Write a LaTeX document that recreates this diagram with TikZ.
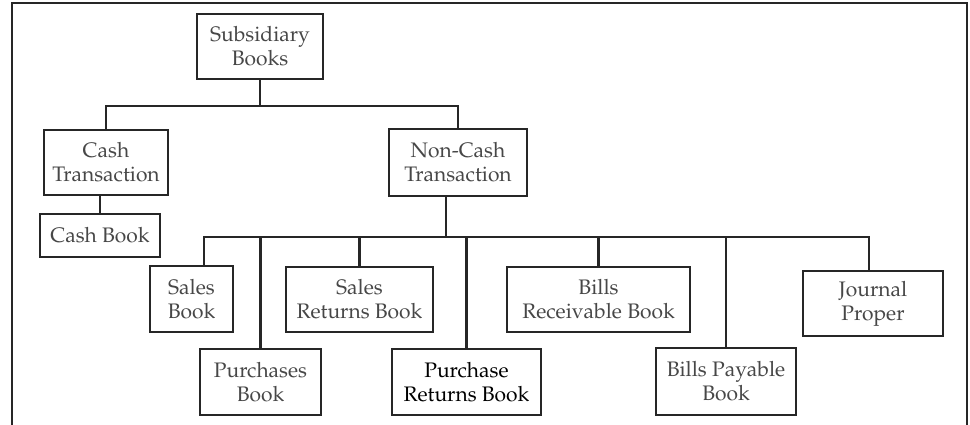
\documentclass[tikz,border=0pt]{standalone}
\usepackage[T1]{fontenc}
\usepackage{mathpazo}
\usetikzlibrary{calc}
\tikzset{
  bx/.style={draw=black!85, line width=2.5pt, align=center, inner sep=0pt,
    text=black!72, font=\fontsize{21}{24}\selectfont},
  ln/.style={draw=black!85, line width=2.5pt},
}
\begin{document}
\begin{tikzpicture}[x=1pt,y=-1pt]
\useasboundingbox (0,0) rectangle (970,425);
\draw[ln, line width=2.8pt] (12,427) -- (12,3) -- (967,3) -- (967,427);
\coordinate (bar1) at (0,106);
\coordinate (bar2) at (0,237);
\node[bx, minimum width=126pt, minimum height=65pt] (sub) at (260,46.5) {Subsidiary\\Books};
\node[bx, minimum width=124pt, minimum height=65pt] (cash) at (106,162.5) {Cash\\Transaction};
\node[bx, minimum width=120pt, minimum height=43pt] (cashbook) at (100,235.5) {Cash Book};
\node[bx, minimum width=138pt, minimum height=67pt] (noncash) at (458,162.5) {Non-Cash\\Transaction};
\node[bx, minimum width=83pt, minimum height=66pt] (sales) at (191.5,299) {Sales\\Book};
\node[bx, minimum width=121pt, minimum height=66pt] (purch) at (260.5,382) {Purchases\\Book};
\node[bx, minimum width=147pt, minimum height=65pt] (salesret) at (359.5,299.5) {Sales\\Returns Book};
\node[bx, minimum width=149pt, minimum height=66pt, text=black] (purchret) at (466.5,382) {Purchase\\Returns Book};
\node[bx, minimum width=183pt, minimum height=65pt] (billrec) at (598.5,299.5) {Bills\\Receivable Book};
\node[bx, minimum width=140pt, minimum height=67pt] (billpay) at (726,381.5) {Bills Payable\\Book};
\node[bx, minimum width=140pt, minimum height=65pt] (journal) at (873,303.5) {Journal\\Proper};
% top level
\draw[ln] (sub.south) -- (sub.south |- bar1);
\draw[ln] (cash.north) -- (cash.north |- bar1) -| (noncash.north);
\draw[ln] (cashbook.north) -- (cashbook.north |- cash.south);
% non-cash children
\coordinate (ncs) at ($(noncash.south)+(-12,0)$);
\coordinate (sn) at ($(sales.north)+(12.5,0)$);
\draw[ln] (ncs) -- (ncs |- bar2);
\draw[ln] (sn) -- (sn |- bar2) -| ($(journal.north)+(-4,0)$);
\foreach \n in {purch,salesret,purchret,billrec,billpay}
  \draw[ln] (\n.north) -- (\n.north |- bar2);
\end{tikzpicture}
\end{document}
